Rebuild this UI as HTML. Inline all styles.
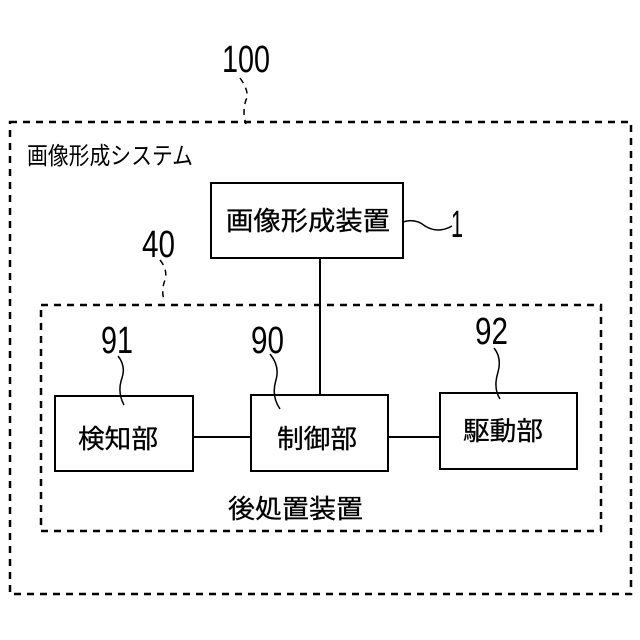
<!DOCTYPE html>
<html><head><meta charset="utf-8"><style>
html,body{margin:0;padding:0;background:#fff}
svg{display:block}
text{font-family:"Liberation Sans","Noto Sans CJK JP",sans-serif;fill:#000}
</style></head><body>
<svg width="640" height="640" viewBox="0 0 640 640" xmlns="http://www.w3.org/2000/svg">
<g fill="none" stroke="#000" stroke-width="2.5" stroke-dasharray="7,6">
<rect x="10" y="122" width="621" height="472"/>
<rect x="41" y="305" width="560" height="226"/>
</g>
<g fill="none" stroke="#000" stroke-width="1.5" stroke-dasharray="6,5">
<path d="M240 78 Q250 92 246 100 Q242 112 246 124"/>
<path d="M160 260 Q168 270 165 280 Q161 290 164 300"/>
</g>
<g fill="none" stroke="#000" stroke-width="2">
<rect x="211" y="183" width="192" height="75"/>
<rect x="55" y="396" width="138" height="75"/>
<rect x="251" y="395" width="137" height="76"/>
<rect x="440" y="393" width="137" height="76"/>
<line x1="320" y1="258" x2="320" y2="395"/>
<line x1="193" y1="437" x2="251" y2="437"/>
<line x1="388" y1="437" x2="440" y2="437"/>
</g>
<g fill="none" stroke="#000" stroke-width="1.5">
<path d="M403 222 Q415 218 425 226 Q438 234 452 226"/>
<path d="M118 356 Q126 366 122 378 Q117 392 124 405"/>
<path d="M270 354 Q280 366 276 380 Q271 396 280 409"/>
<path d="M494 348 Q502 358 498 372 Q493 388 500 399"/>
</g>
<g font-size="38">
<text x="222" y="72" textLength="48" lengthAdjust="spacingAndGlyphs">100</text>
<text x="142" y="257" textLength="33" lengthAdjust="spacingAndGlyphs">40</text>
<text x="101" y="353" textLength="32" lengthAdjust="spacingAndGlyphs">91</text>
<text x="251" y="353" textLength="33" lengthAdjust="spacingAndGlyphs">90</text>
<text x="475" y="344" textLength="33" lengthAdjust="spacingAndGlyphs">92</text>
<text x="451" y="237" textLength="12" lengthAdjust="spacingAndGlyphs">1</text>
</g>
<text x="27" y="164" font-size="24" textLength="166" lengthAdjust="spacingAndGlyphs">画像形成システム</text>
<g font-size="26" stroke="#000" stroke-width="0.3">
<text x="226" y="230" textLength="164" lengthAdjust="spacingAndGlyphs">画像形成装置</text>
<text x="78" y="448" textLength="80" lengthAdjust="spacingAndGlyphs">検知部</text>
<text x="277" y="448" textLength="80" lengthAdjust="spacingAndGlyphs">制御部</text>
<text x="463" y="440" textLength="80" lengthAdjust="spacingAndGlyphs">駆動部</text>
<text x="228" y="518" textLength="135" lengthAdjust="spacingAndGlyphs">後処置装置</text>
</g>
</svg>
</body></html>
